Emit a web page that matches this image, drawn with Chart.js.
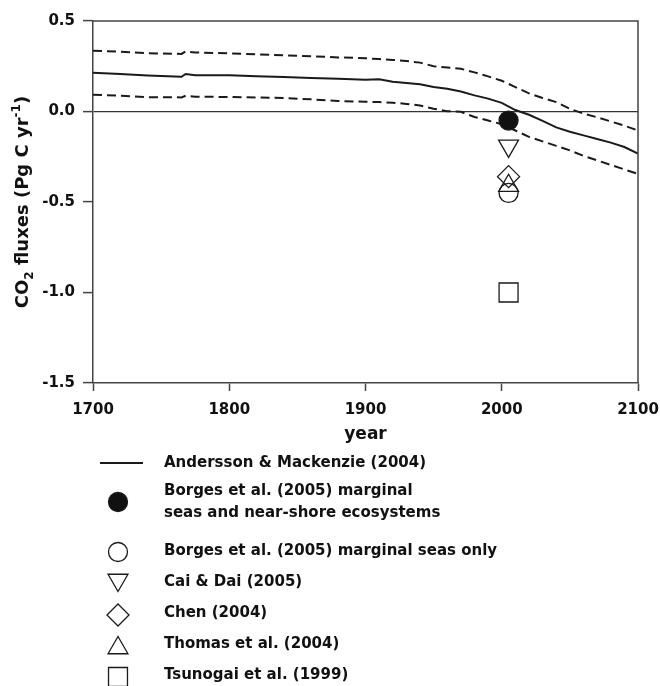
<!DOCTYPE html>
<html lang="en">
<head>
  <meta charset="UTF-8" />
  <title>CO2 fluxes</title>
  <script src="https://cdn.jsdelivr.net/npm/chart.js"></script>
  <style>
    html, body { margin: 0; padding: 0; background: #fff; }
    #wrap { position: relative; width: 660px; height: 686px; }
  </style>
</head>
<body>
  <div id="wrap"><canvas id="fluxChart"></canvas></div>

  <script>
    // model curve (Andersson & Mackenzie 2004) with its upper / lower bounds
    const years = [1700, 1720, 1740, 1760, 1765, 1768, 1775, 1800, 1820, 1840, 1860, 1880, 1900,
                   1910, 1920, 1930, 1940, 1950, 1960, 1970, 1980, 1990, 2000, 2010, 2020,
                   2030, 2040, 2050, 2060, 2070, 2080, 2090, 2100];
    const modelFlux = [0.214, 0.207, 0.199, 0.193, 0.192, 0.207, 0.200, 0.200, 0.195, 0.190, 0.185, 0.181, 0.176,
                       0.178, 0.165, 0.158, 0.151, 0.135, 0.126, 0.110, 0.089, 0.071, 0.048, 0.008, -0.018,
                       -0.052, -0.088, -0.112, -0.132, -0.152, -0.172, -0.196, -0.232];
    const upperFlux = [0.336, 0.330, 0.322, 0.319, 0.318, 0.332, 0.326, 0.321, 0.316, 0.310, 0.305, 0.299, 0.294,
                       0.290, 0.285, 0.279, 0.270, 0.250, 0.243, 0.236, 0.216, 0.194, 0.170, 0.135, 0.100,
                       0.075, 0.052, 0.015, -0.012, -0.032, -0.055, -0.078, -0.105];
    const lowerFlux = [0.093, 0.087, 0.079, 0.079, 0.078, 0.087, 0.082, 0.080, 0.077, 0.075, 0.067, 0.058, 0.054,
                       0.052, 0.049, 0.042, 0.033, 0.015, 0.002, -0.002, -0.030, -0.050, -0.070, -0.105, -0.140,
                       -0.165, -0.190, -0.215, -0.245, -0.270, -0.295, -0.320, -0.345];

    // single estimates, all plotted at 2005
    const obsYear = 2005;
    const obsNames = ['Borges et al. (2005) marginal seas and near-shore ecosystems',
                      'Borges et al. (2005) marginal seas only',
                      'Cai & Dai (2005)', 'Chen (2004)', 'Thomas et al. (2004)', 'Tsunogai et al. (1999)'];
    const obsFlux = [-0.05, -0.45, -0.19, -0.36, -0.41, -1.0];

    const xTicks = [1700, 1800, 1900, 2000, 2100];
    const yTicks = [-1.5, -1.0, -0.5, 0.0, 0.5];

    const FONT = "'DejaVu Sans', sans-serif";
    const INK = '#111';
    const AXIS = '#444';

    const markerStyles = [
      { pointStyle: 'circle', radius: 9.5, rotation: 0, fill: '#111' },
      { pointStyle: 'circle', radius: 9.5, rotation: 0, fill: 'rgba(0,0,0,0)' },
      { pointStyle: 'triangle', radius: 11.5, rotation: 180, fill: 'rgba(0,0,0,0)' },
      { pointStyle: 'rectRot', radius: 11, rotation: 0, fill: 'rgba(0,0,0,0)' },
      { pointStyle: 'triangle', radius: 11.5, rotation: 0, fill: 'rgba(0,0,0,0)' },
      { pointStyle: 'rect', radius: 13.4, rotation: 0, fill: 'rgba(0,0,0,0)' }
    ];

    function curve(label, values, dash) {
      return {
        label: label,
        data: years.map((y, i) => ({ x: y, y: values[i] })),
        showLine: true,
        borderColor: '#1a1a1a',
        borderWidth: 2,
        borderDash: dash,
        pointRadius: 0,
        pointHoverRadius: 0,
        fill: false,
        order: 1
      };
    }

    const datasets = [
      curve('Andersson & Mackenzie (2004)', modelFlux, []),
      curve('upper', upperFlux, [9, 5]),
      curve('lower', lowerFlux, [9, 5])
    ];
    obsNames.forEach((name, i) => {
      const m = markerStyles[i];
      datasets.push({
        label: name,
        data: [{ x: obsYear, y: obsFlux[i] }],
        pointStyle: m.pointStyle,
        pointRadius: m.radius,
        pointHoverRadius: m.radius,
        pointRotation: m.rotation,
        backgroundColor: m.fill,
        borderColor: '#1a1a1a',
        borderWidth: 1.3,
        order: 0
      });
    });

    // top and right edges of the plot box
    const framePlugin = {
      id: 'frame',
      afterDraw(chart) {
        const { ctx, chartArea: a } = chart;
        ctx.save();
        ctx.strokeStyle = AXIS;
        ctx.lineWidth = 1.5;
        ctx.beginPath();
        ctx.moveTo(a.left, a.top);
        ctx.lineTo(a.right, a.top);
        ctx.lineTo(a.right, a.bottom);
        ctx.stroke();
        ctx.restore();
      }
    };

    // y title with subscript / superscript
    const yTitlePlugin = {
      id: 'yTitle',
      afterDraw(chart) {
        const ctx = chart.ctx;
        const a = chart.chartArea;
        const parts = [
          { t: 'CO', size: 18, dy: 0 },
          { t: '2', size: 12, dy: 5 },
          { t: ' fluxes (Pg C yr', size: 18, dy: 0 },
          { t: '-1', size: 12, dy: -8 },
          { t: ')', size: 18, dy: 0 }
        ];
        ctx.save();
        ctx.fillStyle = INK;
        ctx.textBaseline = 'alphabetic';
        ctx.textAlign = 'left';
        let total = 0;
        parts.forEach(p => {
          ctx.font = `bold ${p.size}px ${FONT}`;
          p.w = ctx.measureText(p.t).width;
          total += p.w;
        });
        ctx.translate(28, (a.top + a.bottom) / 2);
        ctx.rotate(-Math.PI / 2);
        let x = -total / 2;
        parts.forEach(p => {
          ctx.font = `bold ${p.size}px ${FONT}`;
          ctx.fillText(p.t, x, p.dy);
          x += p.w;
        });
        ctx.restore();
      }
    };

    // legend block under the plot
    const legendPlugin = {
      id: 'sideLegend',
      afterDraw(chart) {
        const ctx = chart.ctx;
        const markX = 118;
        const textX = 164;
        ctx.save();
        ctx.font = `bold 15px ${FONT}`;
        ctx.fillStyle = INK;
        ctx.textBaseline = 'middle';
        ctx.textAlign = 'left';

        ctx.strokeStyle = '#1a1a1a';
        ctx.lineWidth = 1.8;
        ctx.beginPath();
        ctx.moveTo(100, 463);
        ctx.lineTo(143, 463);
        ctx.stroke();
        ctx.fillText('Andersson & Mackenzie (2004)', textX, 463);

        const rows = [
          { y: 502, lines: ['Borges et al. (2005) marginal', 'seas and near-shore ecosystems'], ty: [491, 513] },
          { y: 552, lines: ['Borges et al. (2005) marginal seas only'], ty: [551] },
          { y: 580, lines: ['Cai & Dai (2005)'], ty: [582] },
          { y: 615, lines: ['Chen (2004)'], ty: [613] },
          { y: 648, lines: ['Thomas et al. (2004)'], ty: [644] },
          { y: 677, lines: ['Tsunogai et al. (1999)'], ty: [675] }
        ];
        rows.forEach((r, i) => {
          const m = markerStyles[i];
          ctx.save();
          ctx.fillStyle = m.fill;
          ctx.strokeStyle = '#1a1a1a';
          ctx.lineWidth = 1.3;
          Chart.helpers.drawPoint(ctx, {
            pointStyle: m.pointStyle,
            radius: m.radius,
            rotation: m.rotation,
            borderWidth: 1.3
          }, markX, r.y);
          ctx.restore();
          r.lines.forEach((t, k) => ctx.fillText(t, textX, r.ty[k]));
        });
        ctx.restore();
      }
    };

    new Chart(document.getElementById('fluxChart'), {
      type: 'scatter',
      data: { datasets: datasets },
      options: {
        responsive: true,
        maintainAspectRatio: false,
        animation: false,
        layout: { padding: { left: 0, right: 22, top: 21, bottom: 241 } },
        plugins: {
          legend: { display: false },
          tooltip: { enabled: false }
        },
        scales: {
          x: {
            type: 'linear',
            min: 1700,
            max: 2100,
            afterBuildTicks: s => { s.ticks = xTicks.map(v => ({ value: v })); },
            afterFit: s => { s.height = 62; s.paddingLeft = 0; s.paddingRight = 0; },
            ticks: {
              color: INK,
              font: { family: FONT, size: 15, weight: 'bold' },
              padding: 10,
              maxRotation: 0,
              callback: v => String(v)
            },
            grid: {
              drawOnChartArea: false,
              tickLength: 8,
              tickColor: AXIS,
              tickWidth: 1.5
            },
            border: { color: AXIS, width: 1.5 },
            title: {
              display: true,
              text: 'year',
              color: INK,
              font: { family: FONT, size: 17, weight: 'bold' },
              padding: { top: 0, bottom: 0 }
            }
          },
          y: {
            type: 'linear',
            min: -1.5,
            max: 0.5,
            afterBuildTicks: s => { s.ticks = yTicks.map(v => ({ value: v })); },
            afterFit: s => { s.width = 93; s.paddingTop = 0; s.paddingBottom = 0; },
            ticks: {
              color: INK,
              font: { family: FONT, size: 15, weight: 'bold' },
              padding: 8,
              callback: v => Number(v).toFixed(1)
            },
            grid: {
              color: c => (c.tick && c.tick.value === 0 ? '#333' : 'rgba(0,0,0,0)'),
              lineWidth: 1.2,
              tickLength: 10,
              tickColor: AXIS,
              tickWidth: 1.5
            },
            border: { color: AXIS, width: 1.5 }
          }
        }
      },
      plugins: [framePlugin, yTitlePlugin, legendPlugin]
    });
  </script>
</body>
</html>
